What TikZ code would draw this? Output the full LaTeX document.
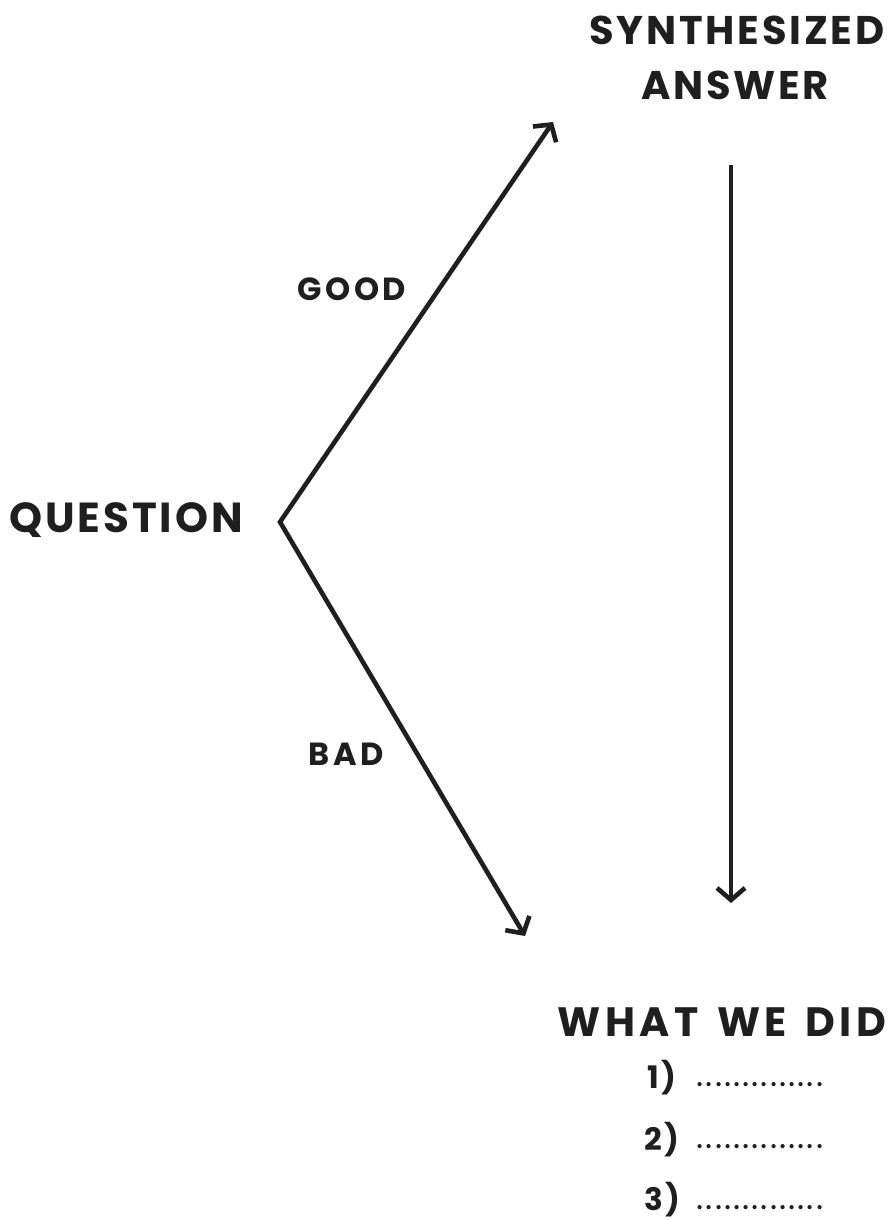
\documentclass[tikz,border=0pt]{standalone}
\usepackage{fontspec}
\setmainfont{Poppins}
\newfontfamily\lab[LetterSpace=7]{Poppins}
\newfontfamily\labw[LetterSpace=11]{Poppins}
\newfontfamily\dotf[LetterSpace=6]{Poppins}
\usetikzlibrary{arrows.meta}
\begin{document}
\begin{tikzpicture}[x=1pt,y=-1pt,
  big/.style={font=\lab\bfseries\fontsize{40}{44}\selectfont, inner sep=0pt, text=black!88},
  small/.style={font=\labw\bfseries\fontsize{32}{36}\selectfont, inner sep=0pt, text=black!88},
  item/.style={font=\lab\bfseries\fontsize{31}{34}\selectfont, inner sep=0pt, text=black!88},
  dots/.style={font=\dotf\fontsize{34}{36}\selectfont, inner sep=0pt, text=black!88},
  barb/.tip={Straight Barb[length=12pt,width=28pt,line width=4.6pt]},
  conn/.style={line width=4.6pt, draw=black!88, line join=miter}]
\useasboundingbox (0,0) rectangle (896,1220);
\fill[white] (0,0) rectangle (896,1220);
\node[big] (syn) at (737,30) {SYNTHESIZED};
\node[big] (ans) at (735,85) {ANSWER};
\node[big, font=\lab\bfseries\fontsize{42}{46}\selectfont] (q) at (126,520) {QUESTION};
\node[small] (good) at (352,289) {GOOD};
\node[small] (bad) at (346,754) {BAD};
\node[big, font=\labw\bfseries\fontsize{41}{44}\selectfont] (what) at (722,1022) {WHAT\hspace{0.45em}WE\hspace{0.45em}DID};
\node[item] (i1) at (662,1078) {1)};
\node[item] (i2) at (662,1140) {2)};
\node[item] (i3) at (662,1200) {3)};
\node[dots] (d1) at (760,1085) {..............};
\node[dots] (d2) at (760,1147) {..............};
\node[dots] (d3) at (760,1208) {..............};
\coordinate (apex) at (280,522);
\coordinate (top) at (553,122);
\coordinate (bot) at (525,936);
\coordinate (vs) at (731,165);
\coordinate (ve) at (731,903);
\draw[conn, barb-barb] (top) -- (apex) -- (bot);
\draw[conn, -barb] (vs) -- (ve);
\end{tikzpicture}
\end{document}
